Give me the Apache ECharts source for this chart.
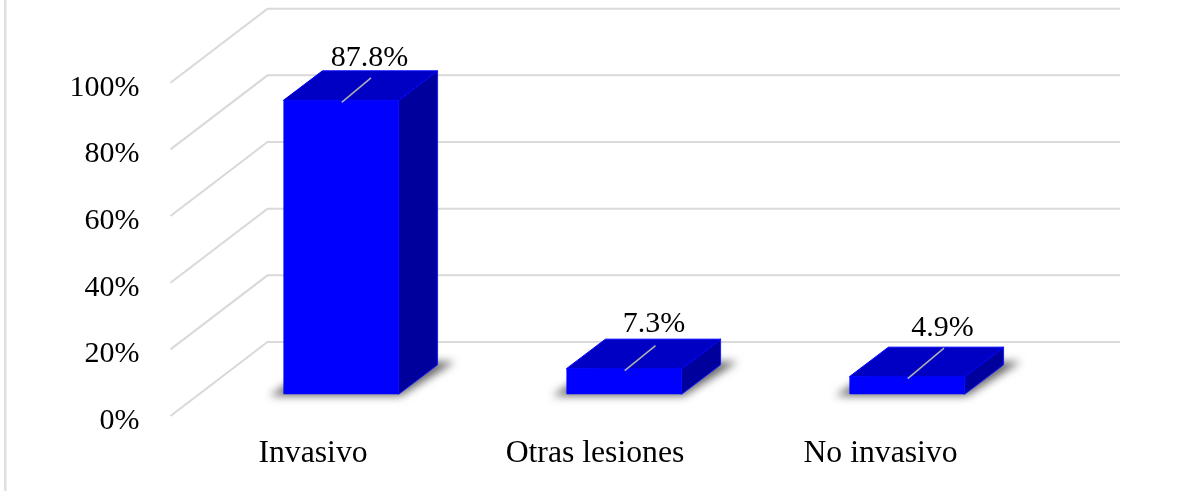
<!DOCTYPE html>
<html><head><meta charset="utf-8">
<style>html,body{margin:0;padding:0;background:#fff}#c{width:1185px;height:491px}</style>
<script src="https://cdn.jsdelivr.net/npm/echarts@6/dist/echarts.min.js"></script>
</head><body><div id="c"></div>
<script>
const categories = ['Invasivo', 'Otras lesiones', 'No invasivo'];
const values = [87.8, 7.3, 4.9];
const valueTicks = [0, 20, 40, 60, 80, 100];
const FONT = '"Liberation Serif","Times New Roman",serif';

// 3D look: wall depth, bar placement within it, hand-placed label nudges
const wall = { dx: 97, dy: -74, extend: 3.5 };
const bar = { widthRatio: 0.407, shiftX: 29, baseUp: 21.7, topUp: 23, dx: 39, dy: -29.5 };
const labelNudge = [
  { x: 28.5, y: -42.5, lx: 30, ly: -22.5 },
  { x: 30, y: -44.5, lx: 31.5, ly: -23 },
  { x: 35.5, y: -48.5, lx: 37, ly: -28.5 }
];
const categoryLabelPad = [2, 0, 5];

function renderWall(params, api) {
  const cs = params.coordSys;
  const y = api.coord([0, api.value(1)])[1];
  return {
    type: 'polyline',
    silent: true,
    shape: { points: [[cs.x, y], [cs.x + wall.dx, y + wall.dy], [cs.x + cs.width + wall.dx + wall.extend, y + wall.dy]] },
    style: { stroke: '#d9d9d9', lineWidth: 2, fill: 'none' }
  };
}

function renderBar(params, api) {
  const i = api.value(0);
  const v = api.value(1);
  const w = api.size([1, 0])[0] * bar.widthRatio;
  const cx = api.coord([i, 0])[0] + bar.shiftX;
  const base = api.coord([i, 0])[1] - bar.baseUp;
  const top = api.coord([i, v])[1] - bar.topUp;
  const l = cx - w / 2, r = cx + w / 2;
  const d = bar.dx, e = bar.dy;
  const n = labelNudge[i];
  const off = 3000;
  return {
    type: 'group',
    children: [
      { type: 'polygon', silent: true,
        shape: { points: [[l - 14 - off, base + 1.5], [r + 2 - off, base + 1.5], [r + d + 17 - off, base + e - 3], [l + d - off, base + e - 3]] },
        style: { fill: '#000', shadowColor: 'rgba(0,0,0,0.6)', shadowBlur: 8, shadowOffsetX: off, shadowOffsetY: 0 } },
      { type: 'polygon', silent: true,
        shape: { points: [[r, top], [r + d, top + e], [r + d, base + e], [r, base]] },
        style: { fill: '#00009c', stroke: '#1a1aff', lineWidth: 1 } },
      { type: 'polygon', silent: true,
        shape: { points: [[l, top], [l + d, top + e], [r + d, top + e], [r, top]] },
        style: { fill: '#0000c4', stroke: '#0000ff', lineWidth: 1 } },
      { type: 'rect', silent: true,
        shape: { x: l, y: top, width: w, height: base - top },
        style: { fill: '#0000ff' } },
      { type: 'line', silent: true,
        shape: { x1: cx + 0.7, y1: top + 2, x2: cx + n.lx, y2: top + n.ly },
        style: { stroke: '#b0b0b0', lineWidth: 1.5 } },
      { type: 'text', silent: true, x: cx + n.x, y: top + n.y,
        style: { text: v + '%', font: '30px ' + FONT, fill: '#000', align: 'center', verticalAlign: 'middle' } }
    ]
  };
}

const chart = echarts.init(document.getElementById('c'), null, { renderer: 'canvas' });
chart.setOption({
  animation: false,
  backgroundColor: '#fff',
  graphic: [{ type: 'rect', left: 4, top: 0, shape: { width: 2.5, height: 491 }, style: { fill: '#e0e0e0' }, silent: true }],
  grid: { left: 170.5, top: 82.7, width: 849, height: 333.3, containLabel: false },
  xAxis: {
    type: 'category',
    data: categories.map((c, i) => ({ value: c, textStyle: { padding: [0, 0, 0, categoryLabelPad[i]] } })),
    axisLine: { show: false }, axisTick: { show: false }, splitLine: { show: false },
    axisLabel: { color: '#000', fontFamily: FONT, fontSize: 31.7, margin: 22 }
  },
  yAxis: {
    type: 'value', min: 0, max: 100, interval: 20,
    axisLine: { show: false }, axisTick: { show: false }, splitLine: { show: false },
    axisLabel: { color: '#000', fontFamily: FONT, fontSize: 30, margin: 31, verticalAlign: 'top', lineHeight: 10, formatter: '{value}%' }
  },
  series: [
    { type: 'custom', z: 1, silent: true, clip: false, renderItem: renderWall, data: valueTicks.map(t => [0, t]), encode: { x: 0, y: 1 } },
    { type: 'custom', z: 2, silent: true, clip: false, renderItem: renderBar, data: values.map((v, i) => [i, v]), encode: { x: 0, y: 1 } }
  ]
});
</script></body></html>
